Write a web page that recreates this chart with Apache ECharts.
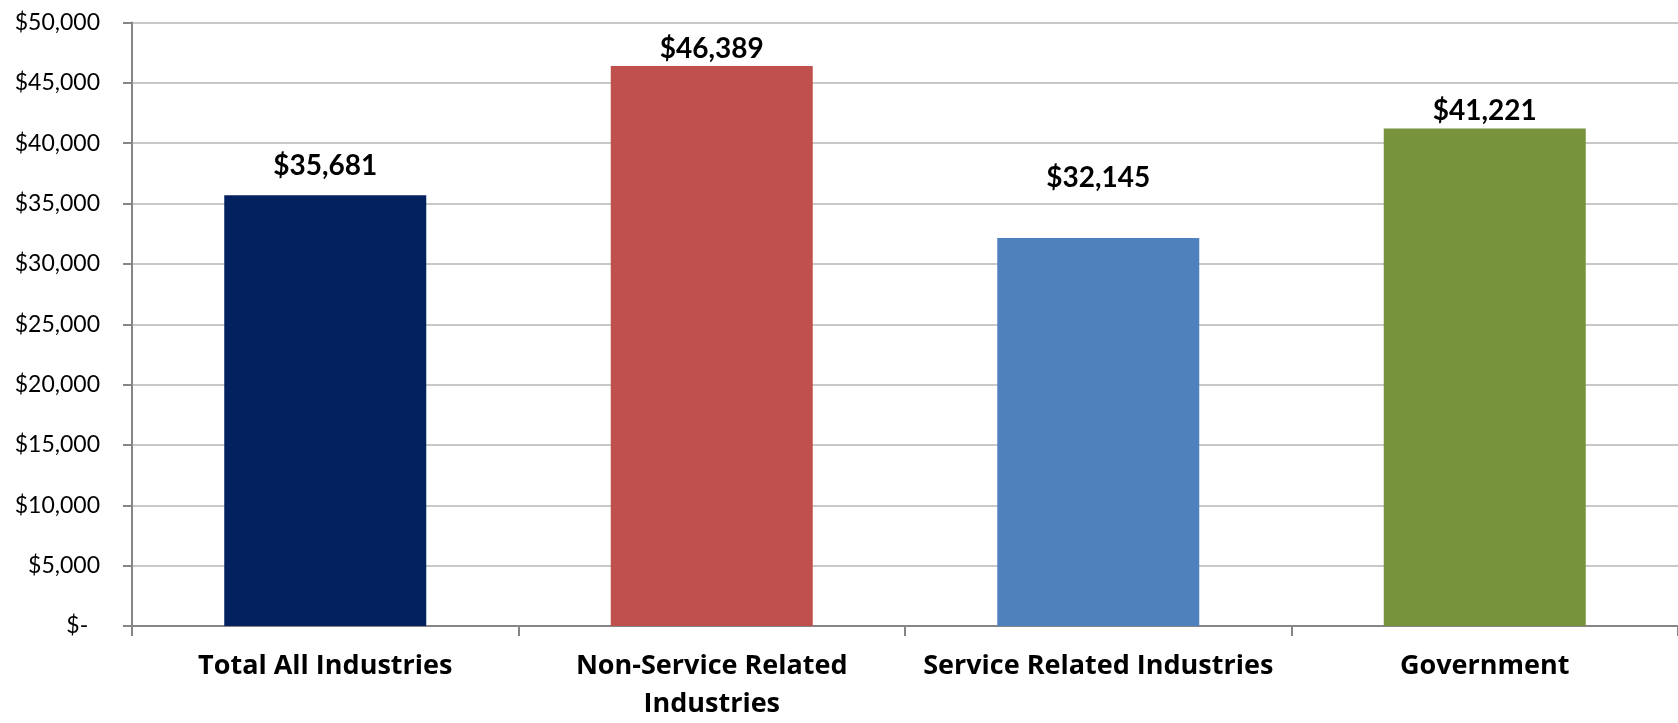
<!DOCTYPE html>
<html>
<head>
<meta charset="utf-8">
<script src="https://cdn.jsdelivr.net/npm/echarts@6/dist/echarts.min.js"></script>
<style>
html,body{margin:0;padding:0;background:#fff;}
#chart{width:1678px;height:723px;}
</style>
</head>
<body>
<div id="chart"></div>
<script>
const categories = ['Total All Industries', 'Non-Service Related\nIndustries', 'Service Related Industries', 'Government'];
const values = [35681, 46389, 32145, 41221];
const barColors = ['#03215E', '#C0504D', '#4F81BD', '#77933C'];
const labelDistances = [15, 3, 46, 3];

const fmt = v => '$' + v.toLocaleString('en-US');

const chart = echarts.init(document.getElementById('chart'));
chart.setOption({
  animation: false,
  backgroundColor: '#ffffff',
  grid: { left: 132, right: -6, top: 22.5, bottom: 94, containLabel: false },
  xAxis: {
    type: 'category',
    data: categories,
    axisLine: { lineStyle: { color: '#868686', width: 2 } },
    axisTick: { show: true, length: 10, lineStyle: { color: '#868686', width: 2 } },
    axisLabel: {
      interval: 0, margin: 21, color: '#000', fontFamily: 'Open Sans', fontWeight: 'bold',
      fontSize: 27, lineHeight: 38
    }
  },
  yAxis: {
    type: 'value', min: 0, max: 50000, interval: 5000,
    axisLine: { show: true, lineStyle: { color: '#868686', width: 2 } },
    axisTick: { show: true, length: 9, lineStyle: { color: '#868686', width: 2 } },
    splitLine: { lineStyle: { color: '#C8C8C8', width: 2 } },
    axisLabel: {
      margin: 32, color: '#000', fontFamily: 'Lato', fontSize: 23,
      formatter: v => v === 0 ? '$-  ' : fmt(v)
    }
  },
  series: [{
    type: 'bar',
    barWidth: 202,
    data: values.map((v, i) => ({
      value: v,
      itemStyle: { color: barColors[i] },
      label: { distance: labelDistances[i] }
    })),
    label: {
      show: true, position: 'top', color: '#000', fontFamily: 'Lato',
      fontWeight: 'bold', fontSize: 28, formatter: p => fmt(p.value)
    }
  }]
});
</script>
</body>
</html>
